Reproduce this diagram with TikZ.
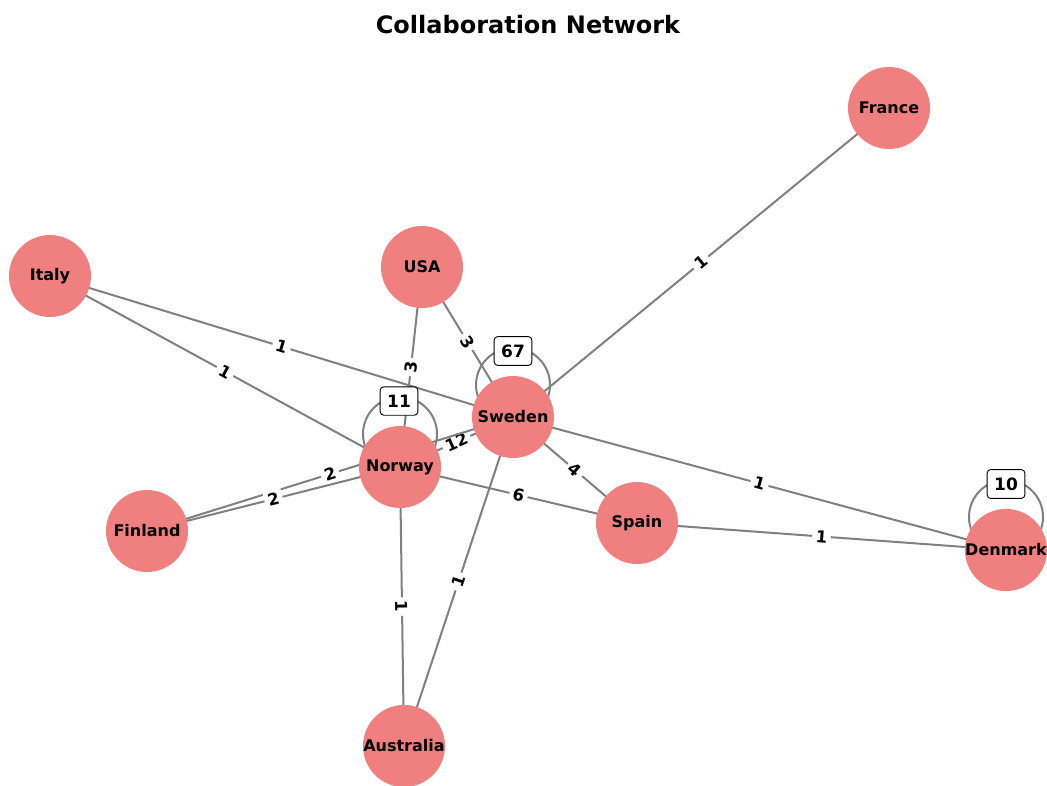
\documentclass[tikz,border=0pt]{standalone}
\usepackage{fontspec}
\setmainfont{DejaVu Sans}
\usetikzlibrary{backgrounds}
\definecolor{nodecol}{RGB}{240,128,128}
\definecolor{edgecol}{RGB}{128,128,128}
\tikzset{
  country/.style={circle, fill=nodecol, minimum size=82pt, inner sep=0pt, font=\fontsize{16}{16}\selectfont\bfseries},
  link/.style={draw=edgecol, line width=2pt},
  wlabel/.style={midway, sloped, fill=white, inner sep=3.5pt, font=\fontsize{16.5}{16.5}\selectfont\bfseries},
  looplabel/.style={draw=black, fill=white, rounded corners=3.5pt, line width=0.9pt, inner xsep=7pt, inner ysep=8pt, font=\fontsize{17}{17}\selectfont\bfseries}
}
\begin{document}
\begin{tikzpicture}[x=1pt,y=-1pt]
\useasboundingbox (0,0) rectangle (1047,785);
\node[font=\fontsize{24}{24}\selectfont\bfseries] (title) at (528,25) {Collaboration Network};

\node[country] (France) at (889,108) {France};
\node[country] (USA) at (422,267) {USA};
\node[country] (Italy) at (50,276) {Italy};
\node[country] (Sweden) at (513,417) {Sweden};
\node[country] (Norway) at (400,467) {Norway};
\node[country] (Finland) at (147,531) {Finland};
\node[country] (Spain) at (637,523) {Spain};
\node[country] (Denmark) at (1006,550) {Denmark};
\node[country] (Australia) at (404,746) {Australia};

\coordinate (swloop) at (513,385);
\coordinate (noloop) at (400,434);
\coordinate (deloop) at (1006,517);

\begin{scope}[on background layer]
\fill[white] (0,0) rectangle (1047,785);
\draw[link] (France.center) -- node[wlabel] {1} (Sweden.center);
\draw[link] (USA.center) -- node[wlabel] {3} (Sweden.center);
\draw[link] (USA.center) -- node[wlabel] {3} (Norway.center);
\draw[link] (Italy.center) -- node[wlabel] {1} (Sweden.center);
\draw[link] (Italy.center) -- node[wlabel] {1} (Norway.center);
\draw[link] (Norway.center) -- node[wlabel] {12} (Sweden.center);
\draw[link] (Finland.center) -- node[wlabel] {2} (Sweden.center);
\draw[link] (Finland.center) -- node[wlabel] {2} (Norway.center);
\draw[link] (Norway.center) -- node[wlabel] {6} (Spain.center);
\draw[link] (Sweden.center) -- node[wlabel] {4} (Spain.center);
\draw[link] (Sweden.center) -- node[wlabel] {1} (Denmark.center);
\draw[link] (Spain.center) -- node[wlabel] {1} (Denmark.center);
\draw[link] (Norway.center) -- node[wlabel] {1} (Australia.center);
\draw[link] (Sweden.center) -- node[wlabel] {1} (Australia.center);
\draw[link] (swloop) circle[radius=37pt];
\draw[link] (noloop) circle[radius=37pt];
\draw[link] (deloop) circle[radius=37pt];
\end{scope}

\node[looplabel] (l67) at (513,351) {67};
\node[looplabel] (l11) at (399,401) {11};
\node[looplabel] (l10) at (1006,484) {10};
\end{tikzpicture}
\end{document}
